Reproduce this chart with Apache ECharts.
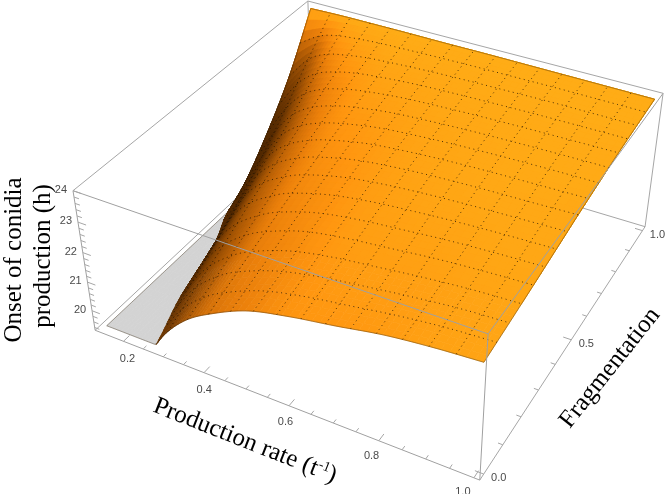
<!DOCTYPE html>
<html>
<head>
<meta charset="utf-8">
<style>html,body{margin:0;background:#fff}#chart{width:666px;height:494px}</style>
<script src="https://cdn.jsdelivr.net/npm/echarts@6/dist/echarts.min.js"></script>
</head>
<body>
<div id="chart"></div>
<script>
// grid: onset (h) per fragmentation row and production rate column
const rates = [0.145, 0.2, 0.25, 0.3, 0.35, 0.4, 0.5, 0.6, 0.7, 0.8, 0.9, 1];
const fragments = [0, 0.125, 0.25, 0.375, 0.5, 0.625, 0.75, 0.875, 1];
const onset0 = [17.3, 18.3, 19.0, 19.96, 20.66, 21.13, 21.8, 22.14, 22.38, 22.64, 22.8, 22.9];
const onset1 = [17.5, 18.7, 19.6, 20.5, 21.1, 21.55, 22.1, 22.42, 22.62, 22.8, 22.95, 23.03];
const onset2 = [17.8, 19.1, 20.2, 21.0, 21.55, 21.95, 22.45, 22.7, 22.85, 23.0, 23.1, 23.17];
const onset3 = [18.3, 19.6, 20.8, 21.55, 22.0, 22.35, 22.75, 22.97, 23.1, 23.2, 23.27, 23.32];
const onset4 = [19.2, 20.3, 21.4, 22.05, 22.45, 22.72, 23.05, 23.22, 23.32, 23.38, 23.42, 23.47];
const onset5 = [19.85, 21.1, 22.0, 22.55, 22.85, 23.05, 23.3, 23.42, 23.5, 23.55, 23.58, 23.6];
const onset6 = [20.9, 22.0, 22.7, 23.05, 23.25, 23.38, 23.53, 23.6, 23.65, 23.68, 23.7, 23.72];
const onset7 = [22.2, 23.0, 23.35, 23.5, 23.6, 23.65, 23.72, 23.76, 23.78, 23.8, 23.8, 23.8];
const onset8 = [23.9, 23.92, 23.93, 23.93, 23.93, 23.93, 23.92, 23.92, 23.91, 23.9, 23.89, 23.88];
const onset = [onset0, onset1, onset2, onset3, onset4, onset5, onset6, onset7, onset8];

const rateTicks = ['0.2', '0.4', '0.6', '0.8', '1.0'];
const fragmentTicks = ['0.0', '0.5', '1.0'];
const onsetTicks = ['20', '21', '22', '23', '24'];

// plot box in data units, and where its corners land on the page
const rateBox = [0.127, 1.012];
const fragmentBox = [-0.02, 1.02];
const onsetBox = [19.3, 24];
const onsetFloor = 19.39;
const corners = [
	[0, 0, 0, 95, 330], [1, 0, 0, 480, 480], [1, 1, 0, 645, 227],
	[0, 0, 1, 73, 191], [1, 0, 1, 488, 334], [1, 1, 1, 663, 93], [0, 1, 1, 308, 1]
];

// least squares camera matrix from the corners
function solveCamera() {
	const rows = [];
	corners.forEach(([X, Y, Z, px, py]) => {
		const x = px / 100, y = py / 100;
		rows.push([X, Y, Z, 1, 0, 0, 0, 0, -x * X, -x * Y, -x * Z, x]);
		rows.push([0, 0, 0, 0, X, Y, Z, 1, -y * X, -y * Y, -y * Z, y]);
	});
	const n = 11;
	const m = [];
	for (let i = 0; i < n; i++) {
		m.push([]);
		for (let j = 0; j <= n; j++) {
			let s = 0;
			rows.forEach(r => { s += r[i] * r[j]; });
			m[i].push(s);
		}
	}
	for (let i = 0; i < n; i++) {
		let best = i;
		for (let k = i + 1; k < n; k++) if (Math.abs(m[k][i]) > Math.abs(m[best][i])) best = k;
		[m[i], m[best]] = [m[best], m[i]];
		for (let k = 0; k < n; k++) {
			if (k === i) continue;
			const c = m[k][i] / m[i][i];
			for (let j = i; j <= n; j++) m[k][j] -= c * m[i][j];
		}
	}
	return m.map((r, i) => r[n] / r[i]);
}
const cam = solveCamera();

function project(p, f, z) {
	const X = (p - rateBox[0]) / (rateBox[1] - rateBox[0]);
	const Y = (f - fragmentBox[0]) / (fragmentBox[1] - fragmentBox[0]);
	const Z = (z - onsetBox[0]) / (onsetBox[1] - onsetBox[0]);
	const w = cam[8] * X + cam[9] * Y + cam[10] * Z + 1;
	return [
		100 * (cam[0] * X + cam[1] * Y + cam[2] * Z + cam[3]) / w,
		100 * (cam[4] * X + cam[5] * Y + cam[6] * Z + cam[7]) / w
	];
}

// smooth curve through the grid nodes so the surface shows no creases
function curve(xs, ys, v) {
	let i = 0;
	while (i < xs.length - 2 && v > xs[i + 1]) i++;
	const h = xs[i + 1] - xs[i];
	const t = (v - xs[i]) / h;
	const a = Math.max(i - 1, 0), b = Math.min(i + 2, xs.length - 1);
	const m0 = (ys[i + 1] - ys[a]) / (xs[i + 1] - xs[a]) * h;
	const m1 = (ys[b] - ys[i]) / (xs[b] - xs[i]) * h;
	const t2 = t * t, t3 = t2 * t;
	return (2 * t3 - 3 * t2 + 1) * ys[i] + (t3 - 2 * t2 + t) * m0 +
		(3 * t2 - 2 * t3) * ys[i + 1] + (t3 - t2) * m1;
}
function blend(table, p, f) {
	return curve(fragments, table.map(row => curve(rates, row, p)), f);
}

// steepness along the rate axis at each grid node, drives the shading
const steep = onset.map(row => row.map((v, i) => {
	const a = Math.max(i - 1, 0), b = Math.min(i + 1, row.length - 1);
	return ((row[b] - row[a]) / 4.7) / ((rates[b] - rates[a]) / 0.885);
}));
const shadeStops = [
	[0, 255, 172, 22], [0.5, 255, 150, 16], [1, 235, 128, 11],
	[1.6, 198, 104, 7], [2.4, 152, 78, 4], [3.6, 88, 44, 2], [6, 50, 25, 0]
];
function shade(t) {
	let k = 0;
	while (k < shadeStops.length - 2 && t > shadeStops[k + 1][0]) k++;
	const s = shadeStops[k], e = shadeStops[k + 1];
	const a = Math.min(Math.max((t - s[0]) / (e[0] - s[0]), 0), 1);
	return 'rgb(' + [1, 2, 3].map(c => Math.round(s[c] + (e[c] - s[c]) * a)).join(',') + ')';
}

const heightAt = (p, f) => Math.max(blend(onset, p, f), onsetFloor);

// surface patches, far side first
const patches = [];
const splits = 6;
for (let j = fragments.length - 2; j >= 0; j--) {
	for (let sj = splits - 1; sj >= 0; sj--) {
		for (let i = 0; i < rates.length - 1; i++) {
			for (let si = 0; si < splits; si++) {
				const dp = (rates[i + 1] - rates[i]) / splits;
				const df = (fragments[j + 1] - fragments[j]) / splits;
				const p = rates[i] + si * dp;
				const f = fragments[j] + sj * df;
				patches.push([p, f, p + dp, f + df]);
			}
		}
	}
}

// cut one patch along the floor, returns the part above or below it
function cutPatch(q, above) {
	const h = q.map(c => blend(onset, c[0], c[1]));
	const out = [];
	q.forEach((c, i) => {
		const n = (i + 1) % 4;
		const inside = h[i] > onsetFloor;
		if (inside === above) out.push([c[0], c[1], Math.max(h[i], onsetFloor)]);
		if (inside !== (h[n] > onsetFloor)) {
			const t = (onsetFloor - h[i]) / (h[n] - h[i]);
			out.push([c[0] + (q[n][0] - c[0]) * t, c[1] + (q[n][1] - c[1]) * t, onsetFloor]);
		}
	});
	return out;
}

function patchSeries(name, above, z) {
	return {
		name, type: 'custom', coordinateSystem: 'cartesian2d', z, silent: true,
		animation: false, clip: false, data: patches,
		renderItem(params, api) {
			const a = api.value(0), b = api.value(1), c = api.value(2), d = api.value(3);
			const cut = cutPatch([[a, b], [c, b], [c, d], [a, d]], above);
			if (cut.length < 3) return null;
			const color = above ? shade(Math.max(blend(steep, (a + c) / 2, (b + d) / 2), 0)) : '#d3d3d3';
			return {
				type: 'polygon',
				shape: { points: cut.map(q => api.coord(project(q[0], q[1], q[2]))) },
				style: { fill: color, stroke: color, lineWidth: 0.7 }
			};
		}
	};
}

// mesh lines, cut where the surface drops to the clipped floor
const meshCount = 15;
const meshRuns = [];
function addMesh(at) {
	let run = [];
	for (let s = 0; s <= 80; s++) {
		const [p, f] = at(s / 80);
		if (blend(onset, p, f) > onsetFloor) {
			run.push(p, f);
		} else if (run.length) {
			meshRuns.push(run);
			run = [];
		}
	}
	if (run.length) meshRuns.push(run);
}
for (let k = 1; k <= meshCount; k++) {
	const pk = rates[0] + (1 - rates[0]) * k / (meshCount + 1);
	const fk = k / (meshCount + 1);
	addMesh(t => [pk, t]);
	addMesh(t => [rates[0] + (1 - rates[0]) * t, fk]);
}

// surface boundary
const rimRuns = [[], [], [], []];
for (let s = 0; s <= 120; s++) {
	const t = s / 120;
	const pt = rates[0] + (1 - rates[0]) * t;
	rimRuns[0].push(pt, 0);
	rimRuns[1].push(pt, 1);
	rimRuns[2].push(rates[0], t);
	rimRuns[3].push(1, t);
}

const [p0, p1] = rateBox, [f0, f1] = fragmentBox, [z0, z1] = onsetBox;
const backEdges = [
	[p0, f0, z0, p0, f1, z0], [p0, f1, z0, p1, f1, z0], [p1, f1, z0, p1, f1, z1],
	[p0, f1, z0, p0, f1, z1], [p0, f1, z1, p1, f1, z1], [p0, f0, z1, p0, f1, z1],
	[p1, f0, z0, p1, f1, z0]
];
const frontEdges = [
	[p0, f0, z0, p1, f0, z0], [p0, f0, z0, p0, f0, z1], [p1, f0, z0, p1, f0, z1],
	[p0, f0, z1, p1, f0, z1], [p1, f0, z1, p1, f1, z1]
];
const tickEdges = [];
for (let k = 4; k <= 20; k++) {
	const v = k * 0.05;
	const len = k % 4 === 0 ? 0.024 : 0.013;
	tickEdges.push([v, f0, z0, v, f0 + len, z0]);
}
for (let k = 0; k <= 10; k++) {
	const v = k * 0.1;
	const len = k % 5 === 0 ? 0.018 : 0.01;
	tickEdges.push([p1, v, z0, p1 - len, v, z0]);
}
for (let k = 0; k <= 23; k++) {
	const v = 19.4 + k * 0.2;
	const major = Math.abs(v - Math.round(v)) < 0.01;
	tickEdges.push([p0, f0, v, p0 + (major ? 0.02 : 0.012), f0, v]);
}

function segmentSeries(name, rows, z, color) {
	return {
		name, type: 'custom', coordinateSystem: 'cartesian2d', z, silent: true,
		animation: false, clip: false, data: rows,
		renderItem(params, api) {
			const a = api.coord(project(api.value(0), api.value(1), api.value(2)));
			const b = api.coord(project(api.value(3), api.value(4), api.value(5)));
			return {
				type: 'line',
				shape: { x1: a[0], y1: a[1], x2: b[0], y2: b[1] },
				style: { stroke: color, lineWidth: 1 }
			};
		}
	};
}

function runSeries(name, runs, z, style) {
	return {
		name, type: 'custom', coordinateSystem: 'cartesian2d', z, silent: true,
		animation: false, clip: false,
		data: runs.map((run, i) => [i]),
		renderItem(params, api) {
			const run = runs[api.value(0)];
			const points = [];
			for (let i = 0; i < run.length; i += 2) {
				points.push(api.coord(project(run[i], run[i + 1], heightAt(run[i], run[i + 1]))));
			}
			return { type: 'polyline', shape: { points }, style: Object.assign({ fill: null }, style) };
		}
	};
}

// texts come from the tick lists, each row places one on the box edge
function labelSeries(name, texts, rows) {
	return {
		name, type: 'custom', coordinateSystem: 'cartesian2d', z: 9, silent: true,
		animation: false, clip: false,
		data: rows,
		renderItem(params, api) {
			const c = api.coord(project(api.value(0), api.value(1), api.value(2)));
			return {
				type: 'text',
				x: c[0] + api.value(3),
				y: c[1] + api.value(4),
				style: {
					text: texts[params.dataIndex],
					font: '11px "Liberation Sans"',
					fill: '#4a4a4a',
					align: 'center',
					verticalAlign: 'middle'
				}
			};
		}
	};
}

const titleFont = '25px "Liberation Serif"';
const chart = echarts.init(document.getElementById('chart'), null, { renderer: 'canvas' });
chart.setOption({
	animation: false,
	backgroundColor: '#fff',
	grid: { left: 0, right: 0, top: 0, bottom: 0 },
	xAxis: { type: 'value', min: 0, max: 666, show: false },
	yAxis: { type: 'value', min: 0, max: 494, inverse: true, show: false },
	graphic: [
		{ type: 'text', x: 14, y: 260, rotation: Math.PI / 2, z: 10,
			style: { text: 'Onset of conidia', font: titleFont, fill: '#000', align: 'center', verticalAlign: 'middle' } },
		{ type: 'text', x: 43, y: 256, rotation: Math.PI / 2, z: 10,
			style: { text: 'production (h)', font: titleFont, fill: '#000', align: 'center', verticalAlign: 'middle' } },
		{ type: 'text', x: 245, y: 441, rotation: -0.376, z: 10,
			style: {
				text: '{a|Production rate (t}{b|-1}{a|)}',
				align: 'center', verticalAlign: 'middle',
				rich: {
					a: { font: titleFont, fill: '#000' },
					b: { font: '14px "Liberation Serif"', fill: '#000', verticalAlign: 'top', padding: [0, 0, 8, 0] }
				}
			} },
		{ type: 'text', x: 610, y: 368, rotation: 0.9, z: 10,
			style: { text: 'Fragmentation', font: titleFont, fill: '#000', align: 'center', verticalAlign: 'middle' } }
	],
	series: [
		segmentSeries('box back', backEdges, 1, '#a6a6a6'),
		patchSeries('clipped floor', false, 2),
		patchSeries('surface', true, 3),
		runSeries('rim', rimRuns, 4, { stroke: 'rgba(50,35,10,0.55)', lineWidth: 0.7 }),
		runSeries('mesh', meshRuns, 5, { stroke: 'rgba(30,18,0,0.8)', lineWidth: 1, lineDash: [1, 3.6] }),
		segmentSeries('box front', frontEdges, 6, '#a0a0a0'),
		segmentSeries('ticks', tickEdges, 6, '#a6a6a6'),
		labelSeries('rate labels', rateTicks, rateTicks.map((v, i) =>
			[+v, f0, z0, 4 - 15 * i / 4, 18 - 4 * i / 4])),
		labelSeries('fragment labels', fragmentTicks, fragmentTicks.map(v => [p1, +v, z0, 15, 4])),
		labelSeries('onset labels', onsetTicks, onsetTicks.map(v => [p0, f0, +v, -12, -1]))
	]
});
</script>
</body>
</html>
